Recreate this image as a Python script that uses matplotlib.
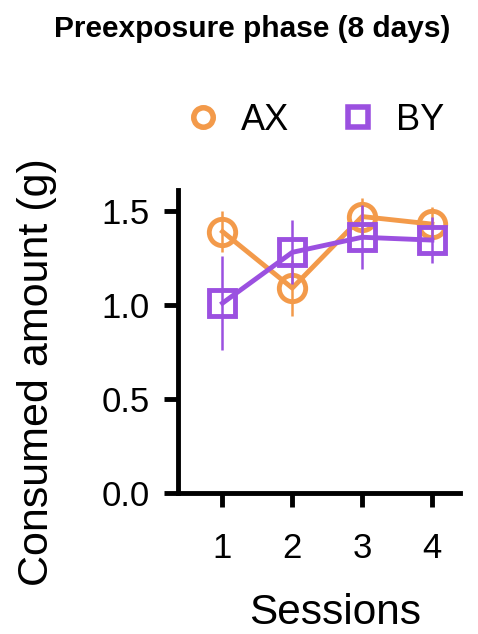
import matplotlib.pyplot as plt
import numpy as np

plt.rcParams['font.family'] = ['Liberation Sans', 'DejaVu Sans']

# data
sessions = [1, 2, 3, 4]
ax_mean = [1.39, 1.09, 1.47, 1.43]
ax_err = [0.11, 0.15, 0.10, 0.09]
by_mean = [1.01, 1.28, 1.36, 1.345]
by_err = [0.25, 0.17, 0.17, 0.12]

orange = '#F39A4A'
purple = '#9B50E0'

fig = plt.figure(figsize=(4.78, 6.34), dpi=100)
ax = fig.add_axes([0.372, 0.222, 0.59, 0.478])

# AX first, BY drawn on top
ax.errorbar(sessions, ax_mean, yerr=ax_err, color=orange, lw=3.5, elinewidth=1.8,
            capsize=0, marker='o', ms=19, mfc='none', mec=orange, mew=3.5,
            label='AX', zorder=3)
ax.errorbar(sessions, by_mean, yerr=by_err, color=purple, lw=3.5, elinewidth=1.8,
            capsize=0, marker='s', ms=19, mfc='none', mec=purple, mew=3.5,
            label='BY', zorder=4)

ax.set_xlim(0.36, 4.4)
ax.set_ylim(0, 1.61)
ax.set_xticks(sessions)
ax.set_yticks([0, 0.5, 1.0, 1.5])
ax.set_yticklabels(['0.0', '0.5', '1.0', '1.5'])

for s in ['top', 'right']:
    ax.spines[s].set_visible(False)
for s in ['left', 'bottom']:
    ax.spines[s].set_linewidth(3.5)
ax.tick_params(width=3.5, length=10, labelsize=25, pad=10)
ax.tick_params(axis='x', pad=18)

ax.set_xlabel('Sessions', fontsize=30.5)
ax.set_ylabel('Consumed amount (g)', fontsize=31)
ax.xaxis.set_label_coords(0.557, -0.33)
ax.yaxis.set_label_coords(-0.43, 0.40)

fig.text(0.528, 0.955, 'Preexposure phase (8 days)', ha='center', va='center',
         fontsize=21.5, fontweight='bold')

handles, labels = ax.get_legend_handles_labels()
leg_handles = [plt.Line2D([], [], ls='none', marker='o', ms=14, mfc='none',
                          mec=orange, mew=4),
               plt.Line2D([], [], ls='none', marker='s', ms=14, mfc='none',
                          mec=purple, mew=4)]
fig.legend(leg_handles, labels, loc='center', bbox_to_anchor=(0.655, 0.81),
           ncol=2, frameon=False, fontsize=26, handletextpad=0.45,
           columnspacing=1.3, handlelength=1.2)

fig.savefig('out.png', dpi=100)
